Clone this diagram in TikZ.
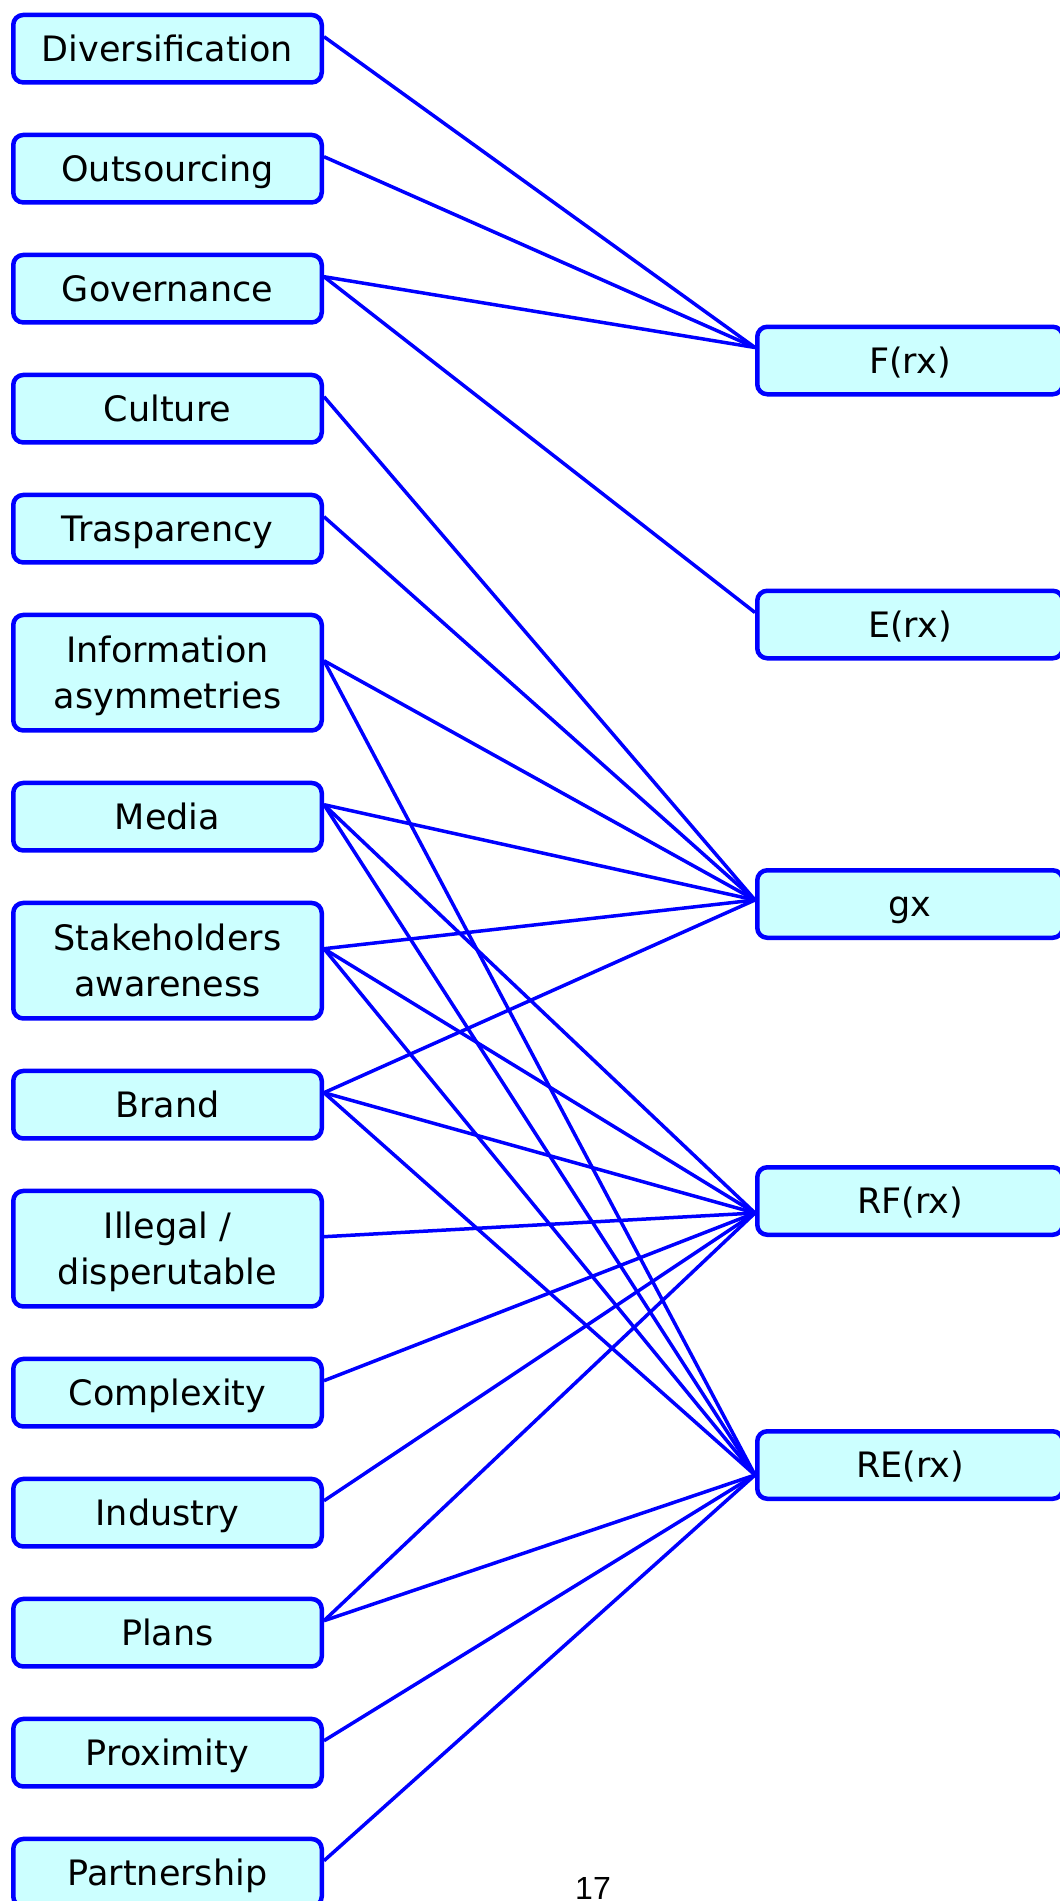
\documentclass[tikz,border=0pt]{standalone}
\usepackage{fontspec}
\setmainfont{DejaVu Sans}
\newfontfamily\pagefont{Liberation Sans}
\usetikzlibrary{calc}
\definecolor{boxfill}{RGB}{204,255,255}
\definecolor{edgeblue}{RGB}{0,0,255}
\newcommand\tx[1]{\smash{#1}\rule{0pt}{25pt}}
\begin{document}
\begin{tikzpicture}[x=1pt,y=-1pt,
  box/.style={draw=edgeblue, line width=4.5pt, fill=boxfill, rounded corners=10pt,
    inner sep=0pt, align=center, font=\fontsize{35}{46}\selectfont, text=black},
  lbox/.style={box, minimum width=308.5pt, minimum height=67.5pt},
  lboxtwo/.style={box, minimum width=308.5pt, minimum height=115.5pt},
  rbox/.style={box, minimum width=305.5pt, minimum height=67.5pt},
  link/.style={draw=edgeblue, line width=3.5pt}]
\useasboundingbox (0,0) rectangle (1060,1901);

% left column
\node[lbox] (div) at (167.5,48.7) {\tx{Diversification}};
\node[lbox] (out) at (167.5,168.7) {\tx{Outsourcing}};
\node[lbox] (gov) at (167.5,288.7) {\tx{Governance}};
\node[lbox] (cul) at (167.5,408.7) {\tx{Culture}};
\node[lbox] (tra) at (167.5,528.7) {\tx{Trasparency}};
\node[lboxtwo] (inf) at (167.5,672.7) {\tx{Information}\\\tx{asymmetries}};
\node[lbox] (med) at (167.5,816.7) {\tx{Media}};
\node[lboxtwo] (sta) at (167.5,960.7) {\tx{Stakeholders}\\\tx{awareness}};
\node[lbox] (bra) at (167.5,1104.7) {\tx{Brand}};
\node[lboxtwo] (ill) at (167.5,1248.7) {\tx{Illegal /}\\\tx{disperutable}};
\node[lbox] (com) at (167.5,1392.7) {\tx{Complexity}};
\node[lbox] (ind) at (167.5,1512.7) {\tx{Industry}};
\node[lbox] (pla) at (167.5,1632.7) {\tx{Plans}};
\node[lbox] (pro) at (167.5,1752.7) {\tx{Proximity}};
\node[lbox] (par) at (167.5,1872.7) {\tx{Partnership}};

% right column
\node[rbox] (F) at (910,360.5) {\tx{F(rx)}};
\node[rbox] (E) at (910,624.5) {\tx{E(rx)}};
\node[rbox] (gx) at (910,904) {\tx{gx}};
\node[rbox] (RF) at (910,1201) {\tx{RF(rx)}};
\node[rbox] (RE) at (910,1465) {\tx{RE(rx)}};

% ports
\foreach \n in {div,out,gov,cul,tra,inf,med,sta,bra,ill,com,ind,pla,pro,par}
  \coordinate (\n-o) at ($(\n.east)+(0,-12)$);
\coordinate (F-i) at ($(F.west)+(0,-13)$);
\coordinate (E-i) at ($(E.west)+(0,-12)$);
\coordinate (gx-i) at ($(gx.west)+(0,-4)$);
\coordinate (RF-i) at ($(RF.west)+(0,12)$);
\coordinate (RE-i) at ($(RE.west)+(0,10)$);

% connectors
\draw[link] (div-o) -- (F-i);
\draw[link] (out-o) -- (F-i);
\draw[link] (gov-o) -- (F-i);
\draw[link] (gov-o) -- (E-i);
\draw[link] (cul-o) -- (gx-i);
\draw[link] (tra-o) -- (gx-i);
\draw[link] (inf-o) -- (gx-i);
\draw[link] (inf-o) -- (RE-i);
\draw[link] (med-o) -- (gx-i);
\draw[link] (med-o) -- (RF-i);
\draw[link] (med-o) -- (RE-i);
\draw[link] (sta-o) -- (gx-i);
\draw[link] (sta-o) -- (RF-i);
\draw[link] (sta-o) -- (RE-i);
\draw[link] (bra-o) -- (gx-i);
\draw[link] (bra-o) -- (RF-i);
\draw[link] (bra-o) -- (RE-i);
\draw[link] (ill-o) -- (RF-i);
\draw[link] (com-o) -- (RF-i);
\draw[link] (ind-o) -- (RF-i);
\draw[link] (pla-o) -- (RF-i);
\draw[link] (pla-o) -- (RE-i);
\draw[link] (pro-o) -- (RE-i);
\draw[link] (par-o) -- (RE-i);

% page number
\node[anchor=base, inner sep=0pt, font=\pagefont\fontsize{32}{32}\selectfont] (pagenum) at (593,1899) {17};
\end{tikzpicture}
\end{document}
